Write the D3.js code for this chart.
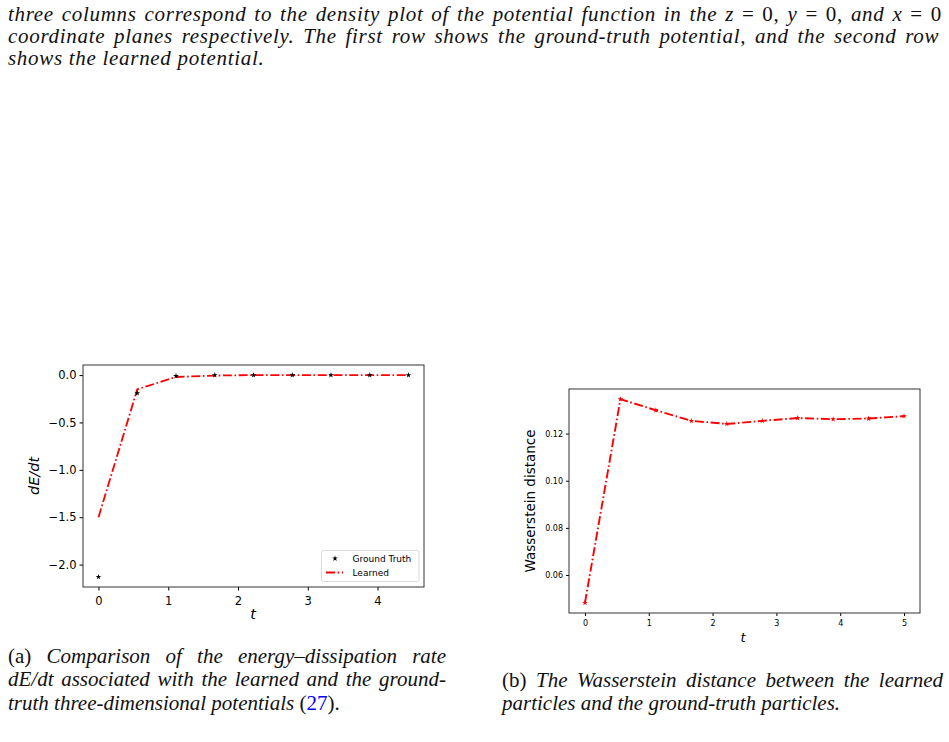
<!DOCTYPE html>
<html>
<head>
<meta charset="utf-8">
<script src="https://cdn.jsdelivr.net/npm/d3@7"></script>
<style>
  body { margin: 0; background: #fff; }
</style>
</head>
<body>
<div id="page"></div>
<script>
// ---- data ----
// (a) energy-dissipation rate
var tA = [0, 0.556, 1.111, 1.667, 2.222, 2.778, 3.333, 3.889, 4.444];
var truthA = [-2.13, -0.19, -0.01, 0, 0, 0, 0, 0, 0];
var learnedA = [-1.50, -0.15, -0.02, -0.005, 0, 0, 0, 0, 0];
var xTicksA = [0, 1, 2, 3, 4];
var yTicksA = [0, -0.5, -1.0, -1.5, -2.0];
// (b) Wasserstein distance
var tB = [0, 0.556, 1.111, 1.667, 2.222, 2.778, 3.333, 3.889, 4.444, 5];
var wassB = [0.0482, 0.1346, 0.1299, 0.1254, 0.1241, 0.1254, 0.1266, 0.1261, 0.1264, 0.1274];
var xTicksB = [0, 1, 2, 3, 4, 5];
var yTicksB = [0.06, 0.08, 0.10, 0.12];
var legendNames = ["Ground Truth", "Learned"];

var RED = "#ff0000";
var DASH = "9,2.6,1.6,2.6";
var SANS = "'DejaVu Sans', sans-serif";
var SERIF = "'Liberation Serif', serif";

var svg = d3.select("#page")
  .append("svg")
    .attr("width", 949)
    .attr("height", 742)
    .style("display", "block");

// matplotlib style 5% padding
function pad(ext) {
  var d = (ext[1] - ext[0]) * 0.05;
  return [ext[0] - d, ext[1] + d];
}

// ---------------- text of the page ----------------
// len = target width (justified lines), 0 = natural width
var para = [
  {y: 21, len: 934, parts: [
    ["three columns correspond to the density plot of the potential function in the ", "italic"],
    ["z", "italic"], [" = 0, ", "normal"], ["y", "italic"], [" = 0, ", "normal"],
    ["and ", "italic"], ["x", "italic"], [" = 0", "normal"]]},
  {y: 43, len: 934, parts: [["coordinate planes respectively.  The first row shows the ground-truth potential, and the second row", "italic"]]},
  {y: 65, len: 0, parts: [["shows the learned potential.", "italic"]]}
];
var capA = [
  {y: 663, len: 438, parts: [["(a) ", "normal"], ["Comparison of the energy\u2013dissipation rate", "italic"]]},
  {y: 686, len: 438, parts: [["dE/dt associated with the learned and the ground-", "italic"]]},
  {y: 710, len: 0, parts: [["truth three-dimensional potentials ", "italic"], ["(", "normal"], ["27", "normal", "#0000ff"], [").", "normal"]]}
];
var capB = [
  {y: 687, len: 441, parts: [["(b) ", "normal"], ["The Wasserstein distance between the learned", "italic"]]},
  {y: 710, len: 0, parts: [["particles and the ground-truth particles.", "italic"]]}
];

function writeLines(lines, x0, spacing) {
  lines.forEach(function(l) {
    var t = svg.append("text")
      .attr("x", x0)
      .attr("y", l.y)
      .style("font-family", SERIF)
      .style("font-size", "21px")
      .style("letter-spacing", spacing + "px")
      .attr("fill", "#111");
    l.parts.forEach(function(p) {
      t.append("tspan")
        .text(p[0])
        .style("font-style", p[1])
        .attr("fill", p[2] || "#111");
    });
    if (l.len) {
      // justify by stretching the spaces, like LaTeX does
      var full = l.parts.map(function(p) { return p[0]; }).join("");
      var gaps = (full.match(/ /g) || []).length;
      var w = t.node().getComputedTextLength();
      t.style("word-spacing", Math.max(0, (l.len - w) / gaps) + "px");
    }
  });
}
writeLines(para, 8, 0.7);
writeLines(capA, 8, 0);
writeLines(capB, 502, 0);

// ---------------- chart (a) ----------------
var xA = d3.scaleLinear().domain(pad(d3.extent(tA))).range([83, 424]);
var yA = d3.scaleLinear().domain(pad(d3.extent(truthA.concat(learnedA)))).range([587, 365]);

var gA = svg.append("g");
gA.append("g")
    .attr("transform", "translate(0,587)")
    .call(d3.axisBottom(xA).tickValues(xTicksA).tickFormat(d3.format("d")).tickSize(3.5).tickPadding(6))
    .call(function(g) { g.select(".domain").remove(); })
    .selectAll("text").style("font-family", SANS).style("font-size", "11.5px").attr("fill", "#000");
gA.append("g")
    .attr("transform", "translate(83,0)")
    .call(d3.axisLeft(yA).tickValues(yTicksA).tickFormat(d3.format(".1f")).tickSize(3.5).tickPadding(3))
    .call(function(g) { g.select(".domain").remove(); })
    .selectAll("text").style("font-family", SANS).style("font-size", "11.5px").attr("fill", "#000");

gA.append("rect")
    .attr("x", 83).attr("y", 365)
    .attr("width", 424 - 83).attr("height", 587 - 365)
    .attr("fill", "none").attr("stroke", "#333").attr("stroke-width", 1);

var lineA = d3.line()
    .x(function(d, i) { return xA(tA[i]); })
    .y(function(d) { return yA(d); });

gA.append("path")
    .datum(learnedA)
    .attr("d", lineA)
    .attr("fill", "none")
    .attr("stroke", RED)
    .attr("stroke-width", 1.8)
    .attr("stroke-dasharray", DASH);

gA.append("g")
  .selectAll("path")
  .data(truthA)
  .enter()
  .append("path")
    .attr("d", d3.symbol(d3.symbolStar, 10))
    .attr("transform", function(d, i) { return "translate(" + xA(tA[i]) + "," + yA(d) + ")"; })
    .attr("fill", "#000");

// axis labels
svg.append("text")
    .attr("transform", "translate(39,476) rotate(-90)")
    .attr("text-anchor", "middle")
    .style("font-family", SANS)
    .style("font-size", "14.5px")
    .style("font-style", "italic")
    .text("dE/dt");
svg.append("text")
    .attr("x", 253).attr("y", 619)
    .attr("text-anchor", "middle")
    .style("font-family", SANS)
    .style("font-size", "14.5px")
    .style("font-style", "italic")
    .text("t");

// legend
var leg = svg.append("g");
leg.append("rect")
    .attr("x", 321.5).attr("y", 550.5).attr("width", 97.5).attr("height", 31)
    .attr("rx", 2)
    .attr("fill", "#fff").attr("fill-opacity", 0.8)
    .attr("stroke", "#d0d0d0").attr("stroke-width", 0.8);
leg.append("path")
    .attr("d", d3.symbol(d3.symbolStar, 10))
    .attr("transform", "translate(335,558.5)")
    .attr("fill", "#000");
leg.append("line")
    .attr("x1", 326).attr("x2", 343).attr("y1", 572.5).attr("y2", 572.5)
    .attr("stroke", RED).attr("stroke-width", 1.8).attr("stroke-dasharray", DASH);
leg.selectAll("text.lab")
  .data(legendNames)
  .enter()
  .append("text")
    .attr("class", "lab")
    .attr("x", 352.5)
    .attr("y", function(d, i) { return 558.5 + i * 14; })
    .attr("dy", "0.35em")
    .style("font-family", SANS)
    .style("font-size", "9px")
    .text(function(d) { return d; });

// ---------------- chart (b) ----------------
var xB = d3.scaleLinear().domain(pad(d3.extent(tB))).range([569, 920]);
var yB = d3.scaleLinear().domain(pad(d3.extent(wassB))).range([613, 389]);

var gB = svg.append("g");
gB.append("g")
    .attr("transform", "translate(0,613)")
    .call(d3.axisBottom(xB).tickValues(xTicksB).tickFormat(d3.format("d")).tickSize(3).tickPadding(4.5))
    .call(function(g) { g.select(".domain").remove(); })
    .selectAll("text").style("font-family", SANS).style("font-size", "8px").attr("fill", "#000");
gB.append("g")
    .attr("transform", "translate(569,0)")
    .call(d3.axisLeft(yB).tickValues(yTicksB).tickFormat(d3.format(".2f")).tickSize(3).tickPadding(3))
    .call(function(g) { g.select(".domain").remove(); })
    .selectAll("text").style("font-family", SANS).style("font-size", "8px").attr("fill", "#000");

gB.append("rect")
    .attr("x", 569).attr("y", 389)
    .attr("width", 920 - 569).attr("height", 613 - 389)
    .attr("fill", "none").attr("stroke", "#333").attr("stroke-width", 1);

var lineB = d3.line()
    .x(function(d, i) { return xB(tB[i]); })
    .y(function(d) { return yB(d); });

gB.append("path")
    .datum(wassB)
    .attr("d", lineB)
    .attr("fill", "none")
    .attr("stroke", RED)
    .attr("stroke-width", 1.9)
    .attr("stroke-dasharray", DASH);

gB.append("g")
  .selectAll("path")
  .data(wassB)
  .enter()
  .append("path")
    .attr("d", d3.symbol(d3.symbolStar, 10))
    .attr("transform", function(d, i) { return "translate(" + xB(tB[i]) + "," + yB(d) + ")"; })
    .attr("fill", RED);

svg.append("text")
    .attr("transform", "translate(535,501) rotate(-90)")
    .attr("text-anchor", "middle")
    .style("font-family", SANS)
    .style("font-size", "13.5px")
    .text("Wasserstein distance");
svg.append("text")
    .attr("x", 743).attr("y", 642)
    .attr("text-anchor", "middle")
    .style("font-family", SANS)
    .style("font-size", "13px")
    .style("font-style", "italic")
    .text("t");
</script>
</body>
</html>
